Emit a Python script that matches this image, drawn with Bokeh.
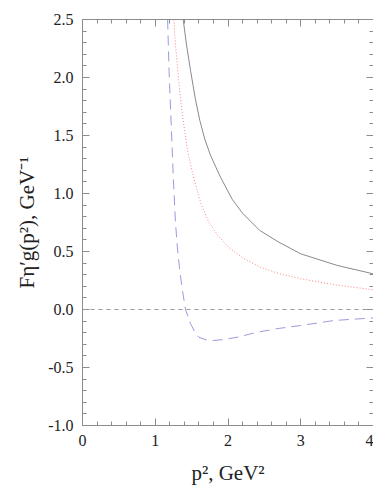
from bokeh.plotting import figure
from bokeh.models import LinearAxis, Range1d, Span, FixedTicker
from bokeh.embed import file_html
from bokeh.resources import INLINE

# ---- data ----
solid_x = [1.384, 1.43, 1.485, 1.55, 1.613, 1.68, 1.759, 1.897, 2.058, 2.2, 2.437, 2.7, 3.0, 3.5, 4.0]
solid_y = [2.5, 2.28, 2.06, 1.82, 1.629, 1.47, 1.33, 1.14, 0.95, 0.83, 0.681, 0.58, 0.48, 0.38, 0.307]

dot_x = [1.255, 1.28, 1.31, 1.345, 1.384, 1.45, 1.53, 1.63, 1.736, 1.86, 2.0, 2.2, 2.447, 2.7, 3.0, 3.5, 4.0]
dot_y = [2.5, 2.27, 2.06, 1.83, 1.629, 1.35, 1.13, 0.91, 0.753, 0.64, 0.54, 0.445, 0.365, 0.31, 0.265, 0.21, 0.17]

dash_x = [1.17, 1.19, 1.219, 1.247, 1.278, 1.305, 1.337, 1.375, 1.416, 1.485, 1.55, 1.6, 1.7, 1.805,
          1.95, 2.126, 2.4, 2.7, 3.0, 3.455, 4.0]
dash_y = [2.5, 2.05, 1.6, 1.155, 0.75, 0.53, 0.336, 0.16, 0.0, -0.123, -0.2, -0.239, -0.262, -0.267,
          -0.258, -0.239, -0.196, -0.163, -0.138, -0.095, -0.072]

x_ticks = [0, 1, 2, 3, 4]
y_ticks = [-1.0, -0.5, 0.0, 0.5, 1.0, 1.5, 2.0, 2.5]
y_tick_labels = {-1.0: "-1.0", -0.5: "-0.5", 0.0: "0.0", 0.5: "0.5", 1.0: "1.0", 1.5: "1.5", 2.0: "2.0", 2.5: "2.5"}
x_minor = [i * 0.2 for i in range(21)]
y_minor = [-1.0 + i * 0.1 for i in range(36)]
x_title = "p², GeV²"
y_title = "Fη′g(p²), GeV⁻¹"

FONT = "Liberation Serif"
AX = "#8c8c8c"
TXT = "#222222"

p = figure(frame_width=291, frame_height=406, x_range=Range1d(0, 4), y_range=Range1d(-1.0, 2.5),
           output_backend="svg", toolbar_location=None,
           min_border_left=82, min_border_right=0, min_border_top=19, min_border_bottom=10,
           x_axis_location=None, y_axis_location=None)
p.outline_line_color = None
p.grid.visible = False
p.background_fill_color = "white"
p.border_fill_color = "white"

def style(ax, labels=True):
    ax.axis_line_color = AX
    ax.major_tick_line_color = AX
    ax.minor_tick_line_color = AX
    ax.major_tick_in = 7
    ax.major_tick_out = 0
    ax.minor_tick_in = 4
    ax.minor_tick_out = 0
    ax.major_label_text_font = FONT
    ax.major_label_text_font_size = "16px" if labels else "0px"
    ax.major_label_text_color = TXT
    ax.major_label_standoff = 9
    ax.axis_label_text_font = FONT
    ax.axis_label_text_font_size = "21px"
    ax.axis_label_text_font_style = "normal"
    ax.axis_label_text_color = TXT

bx = LinearAxis(ticker=FixedTicker(ticks=x_ticks, minor_ticks=x_minor), axis_label=x_title)
style(bx)
bx.axis_label_standoff = 12
p.add_layout(bx, "below")
tx = LinearAxis(ticker=FixedTicker(ticks=x_ticks, minor_ticks=x_minor))
style(tx, labels=False)
tx.major_label_text_color = None
p.add_layout(tx, "above")
ly = LinearAxis(ticker=FixedTicker(ticks=y_ticks, minor_ticks=y_minor), axis_label=y_title)
style(ly)
ly.major_label_overrides = y_tick_labels
ly.axis_label_standoff = 6
p.add_layout(ly, "left")
ry = LinearAxis(ticker=FixedTicker(ticks=y_ticks, minor_ticks=y_minor))
style(ry, labels=False)
ry.major_label_text_color = None
p.add_layout(ry, "right")

p.add_layout(Span(location=0, dimension="width", line_color="#9a9a9a", line_dash="4 4", line_width=1))

p.line(solid_x, solid_y, line_color="#8a8a8a", line_width=1)
p.line(dot_x, dot_y, line_color="#ff8080", line_width=1, line_dash="1 2")
p.line(dash_x, dash_y, line_color="#9a9ade", line_width=1, line_dash="10 6")

open("out.html", "w").write(file_html(p, INLINE))
